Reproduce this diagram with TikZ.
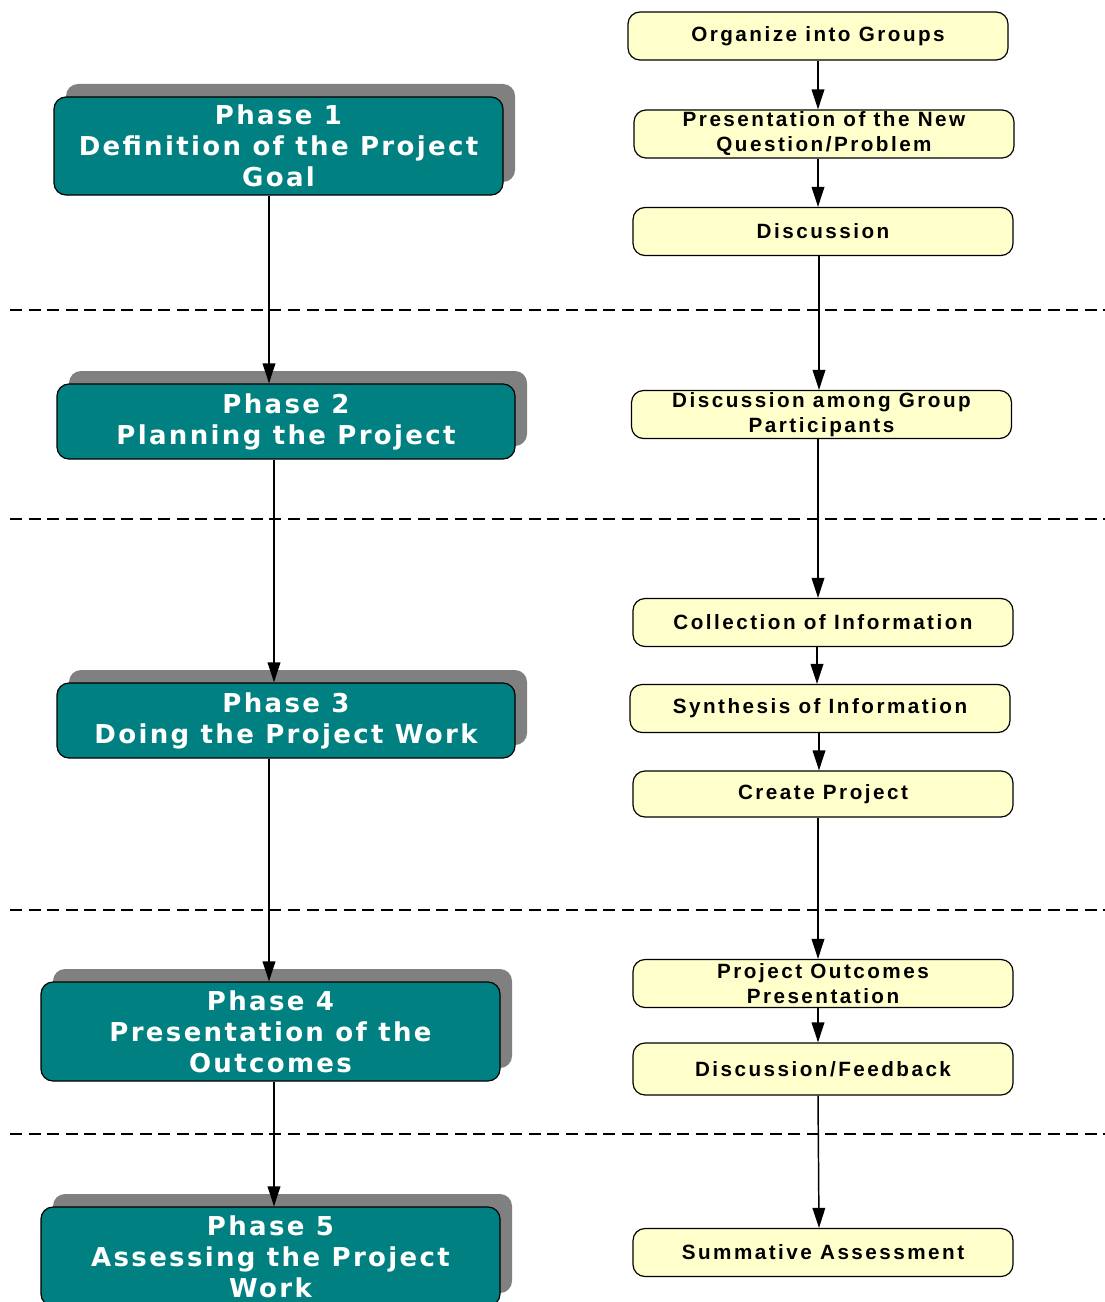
\documentclass[tikz,border=0pt]{standalone}
\usepackage{fontspec}
\usetikzlibrary{arrows.meta,shadows}
\newfontfamily\phasefont[LetterSpace=9]{DejaVu Sans}
\newfontfamily\stepfont[LetterSpace=12]{Liberation Sans}
\definecolor{tealc}{HTML}{008080}
\definecolor{yellowc}{HTML}{FFFFCC}
\definecolor{shadowgray}{HTML}{808080}
\begin{document}
\begin{tikzpicture}[x=0.75pt,y=-0.75pt,
  phase/.style={draw=black, line width=0.9pt, fill=tealc, rounded corners=9pt,
    text=white, align=center, inner sep=0pt,
    font=\phasefont\bfseries\fontsize{19.5pt}{23.25pt}\selectfont,
    general shadow={fill=shadowgray, draw=none, shadow xshift=9pt, shadow yshift=9.75pt}},
  stepbox/.style={draw=black, line width=0.9pt, fill=yellowc, rounded corners=9pt,
    minimum width=285pt, minimum height=36pt, align=center, inner sep=0pt,
    font=\stepfont\bfseries\fontsize{15.5pt}{18.75pt}\selectfont},
  arr/.style={line width=1.1pt, -{Triangle[length=15pt,width=9.5pt]}},
  sepline/.style={line width=1pt, dash pattern=on 9pt off 4.9pt}]
\clip (0,0) rectangle (1105,1302);
\useasboundingbox (0,0) rectangle (1105,1302);

% separators
\draw[sepline] (10,310) -- (1105,310);
\draw[sepline] (10,519) -- (1105,519);
\draw[sepline] (10,910) -- (1105,910);
\draw[sepline] (10,1134) -- (1105,1134);

% phases
\node[phase, minimum width=336.75pt, minimum height=73.5pt] (p1) at (278.5,146) {Phase 1\\Definition of the Project\\Goal};
\node[phase, minimum width=343.5pt, minimum height=56.25pt] (p2) at (286,421.5) {Phase 2\\Planning the Project};
\node[phase, minimum width=343.5pt, minimum height=56.25pt] (p3) at (286,720.5) {Phase 3\\Doing the Project Work};
\node[phase, minimum width=344.25pt, minimum height=74.25pt] (p4) at (270.5,1031.5) {Phase 4\\Presentation of the\\Outcomes};
\node[phase, minimum width=344.25pt, minimum height=74.25pt] (p5) at (270.5,1256.5) {Phase 5\\Assessing the Project\\Work};

% steps
\node[stepbox] (s1) at (818,36) {Organize into Groups};
\node[stepbox] (s2) at (824,134) {Presentation of the New\\Question/Problem};
\node[stepbox] (s3) at (823,231.5) {Discussion};
\node[stepbox] (s4) at (821.5,414.5) {Discussion among Group\\Participants};
\node[stepbox] (s5) at (823,622.5) {Collection of Information};
\node[stepbox] (s6) at (820,708.5) {Synthesis of Information};
\node[stepbox, minimum height=34.5pt] (s7) at (823,794) {Create Project};
\node[stepbox] (s8) at (823,983.5) {Project Outcomes\\Presentation};
\node[stepbox, minimum height=39pt] (s9) at (823,1069) {Discussion/Feedback};
\node[stepbox] (s10) at (823,1252.5) {Summative Assessment};

% left connectors
\draw[arr] (p1.south -| 269,0) -- (p2.north -| 269,0);
\draw[arr] (p2.south -| 274,0) -- (p3.north -| 274,0);
\draw[arr] (p3.south -| 269,0) -- (p4.north -| 269,0);
\draw[arr] (p4.south -| 274,0) -- (p5.north -| 274,0);

% right connectors
\draw[arr] (s1.south -| 818,0) -- (s2.north -| 818,0);
\draw[arr] (s2.south -| 818,0) -- (s3.north -| 818,0);
\draw[arr] (s3.south -| 819,0) -- (s4.north -| 819,0);
\draw[arr] (s4.south -| 818,0) -- (s5.north -| 818,0);
\draw[arr] (s5.south -| 817,0) -- (s6.north -| 817,0);
\draw[arr] (s6.south -| 819,0) -- (s7.north -| 819,0);
\draw[arr] (s7.south -| 818,0) -- (s8.north -| 818,0);
\draw[arr] (s8.south -| 818,0) -- (s9.north -| 818,0);
\draw[arr] (s9.south -| 818,0) -- (s10.north -| 819,0);
\end{tikzpicture}
\end{document}
